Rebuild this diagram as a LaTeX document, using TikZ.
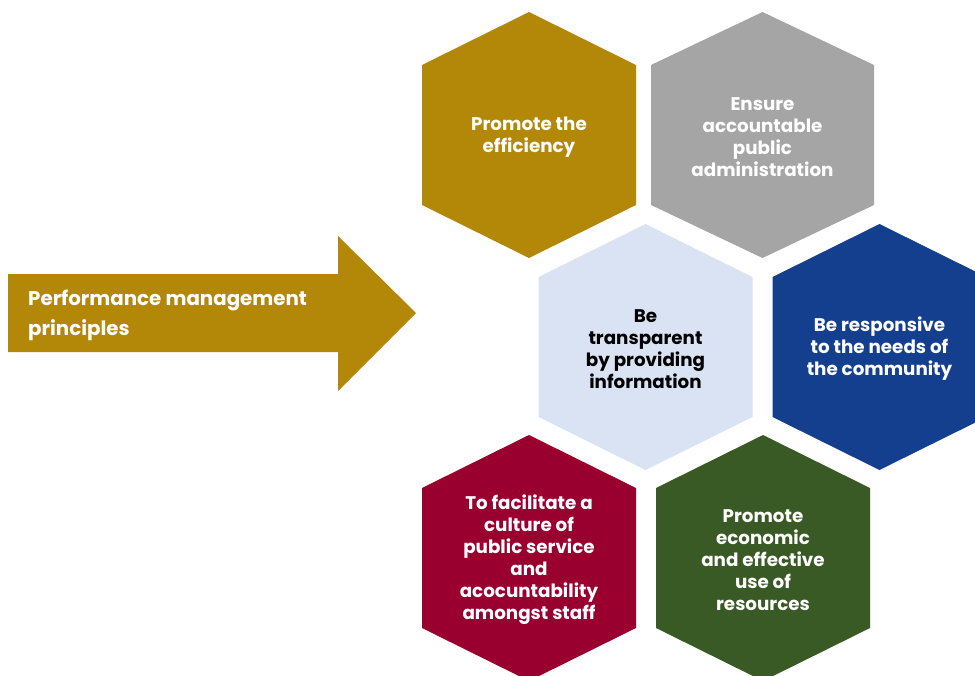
\documentclass[tikz,border=0pt]{standalone}
\usepackage{fontspec}
\setmainfont{Poppins}
\usetikzlibrary{calc}
\definecolor{pmgold}{HTML}{B38708}
\definecolor{pmgrey}{HTML}{A5A5A5}
\definecolor{pmpale}{HTML}{DAE3F3}
\definecolor{pmblue}{HTML}{143F8F}
\definecolor{pmred}{HTML}{990030}
\definecolor{pmgreen}{HTML}{3A5A25}

\begin{document}
\begin{tikzpicture}[x=1pt, y=-1pt,
        font=\bfseries\fontsize{18.3}{22}\selectfont,
        hextxt/.style={align=center, text=white, inner sep=0pt, yshift=-2pt},
        darktxt/.style={hextxt, text=black},
        arrtxt/.style={hextxt, align=left, anchor=west,
                       font=\bfseries\fontsize{19.8}{30}\selectfont}
    ]
        \useasboundingbox (0,0) rectangle (975,675);
        \clip (0,0) rectangle (975,675);
        % hexagon cells: centre / half width / colour
        \foreach \cx/\cy/\hw/\col in {529/135/107/pmgold, 762.5/135/111.5/pmgrey,
                645.5/347/107/pmpale, 879.5/347/107/pmblue,
                529/558/107/pmred, 763/558/107/pmgreen}
            \fill[\col] (\cx,\cy) ++(0,-123) -- ++(\hw,53) -- ++(0,140)
                -- ++(-\hw,53) -- ++(-\hw,-53) -- ++(0,-140) -- cycle;
        % input arrow
        \fill[pmgold] (8,274) -- (338,274) -- (338,236) -- (416,313)
            -- (338,391) -- (338,352) -- (8,352) -- cycle;
        \node[arrtxt] (pm) at (28,313) {Performance management\\principles};
        \node[hextxt] (eff) at (529,135) {Promote the\\efficiency};
        \node[hextxt] (acc) at (762.5,135) {Ensure\\accountable\\public\\administration};
        \node[darktxt] (tra) at (645.5,347) {Be\\transparent\\by providing\\information};
        \node[hextxt] (res) at (879.5,347) {Be responsive\\to the needs of\\the community};
        \node[hextxt] (cul) at (529,558) {To facilitate a\\culture of\\public service\\and\\acocuntability\\amongst staff};
        \node[hextxt] (eco) at (763,558) {Promote\\economic\\and effective\\use of\\resources};
    \end{tikzpicture}
\end{document}
